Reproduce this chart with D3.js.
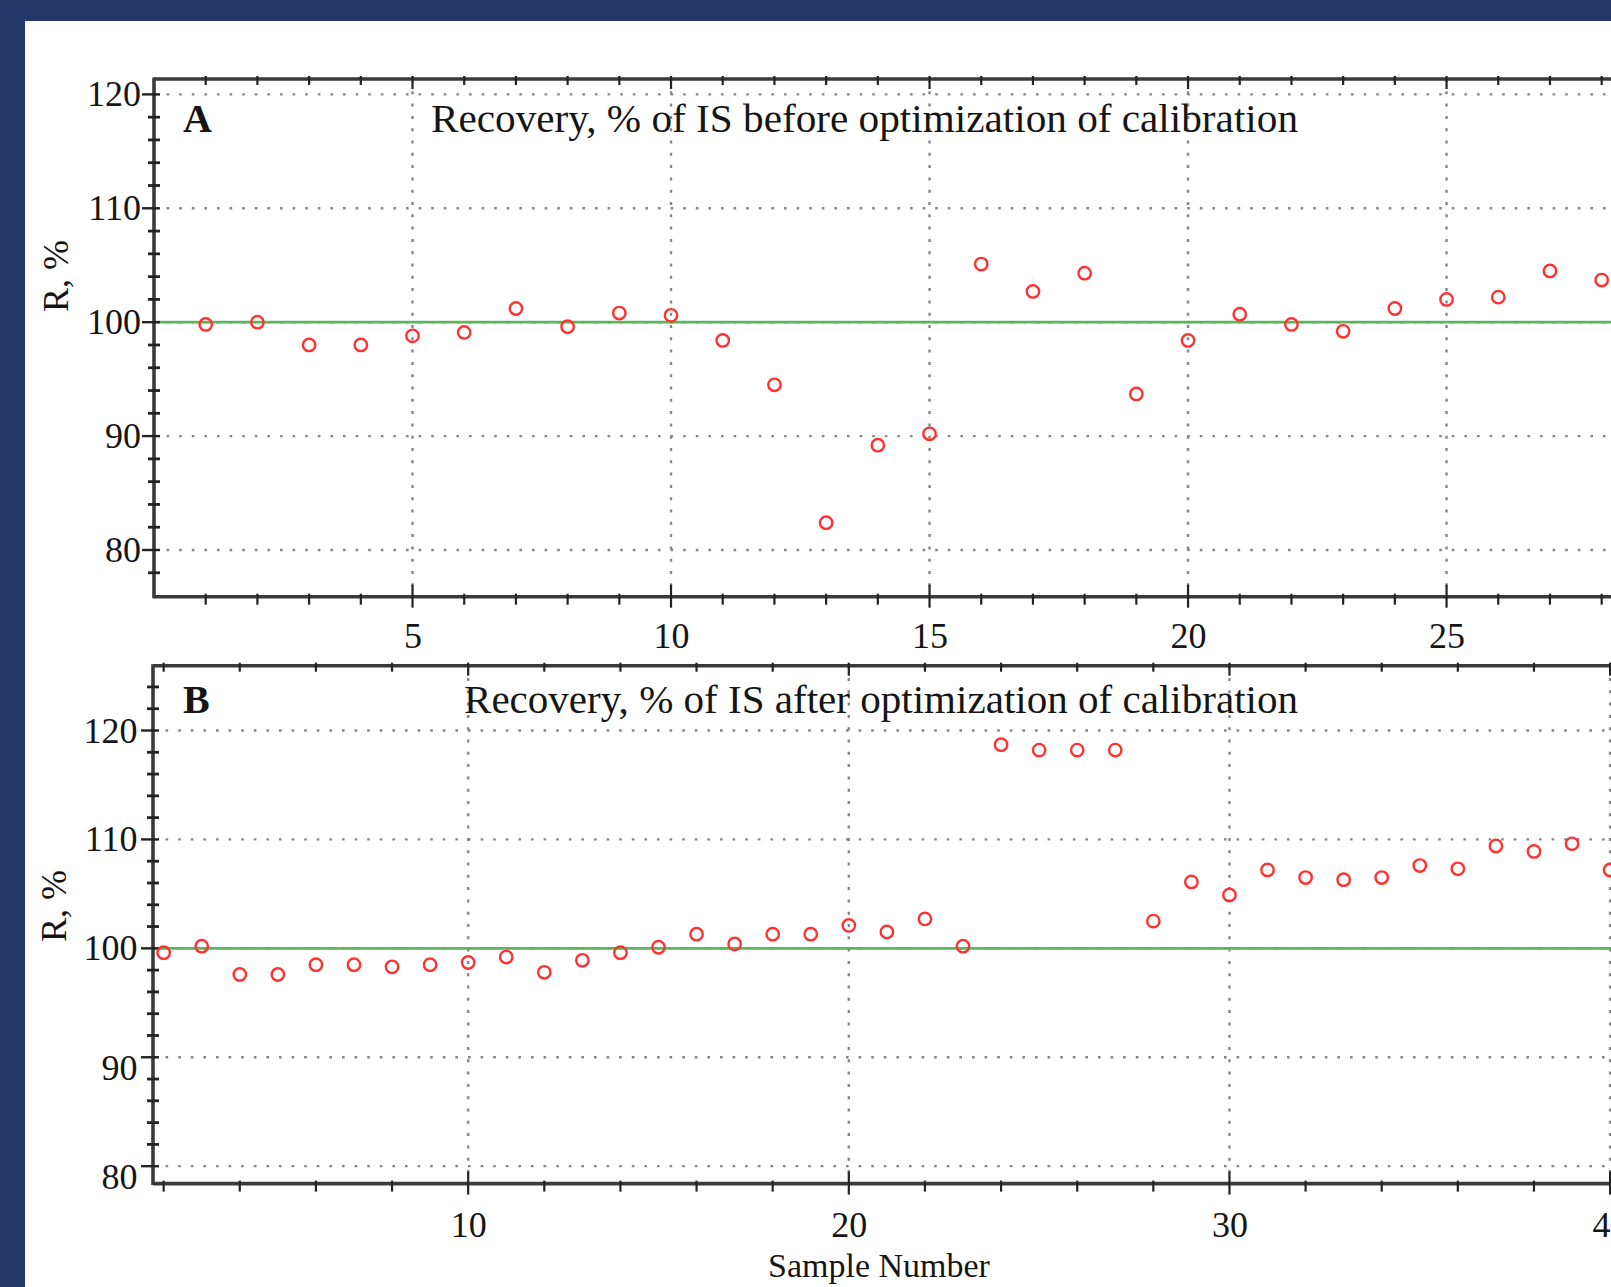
<!DOCTYPE html>
<html><head><meta charset="utf-8">
<script src="https://cdn.jsdelivr.net/npm/d3@7"></script>
<style>
html,body{margin:0;padding:0;background:#233669;overflow:hidden}
svg{display:block}
text{font-family:"Liberation Serif","Times New Roman",serif;fill:#151515}
</style></head><body>
<svg id="chart" width="1611" height="1287"></svg>
<script>
// ---- data ----
const samplesA = [1,2,3,4,5,6,7,8,9,10,11,12,13,14,15,16,17,18,19,20,21,22,23,24,25,26,27,28];
const recoveryA = [99.8,100.0,98.0,98.0,98.8,99.1,101.2,99.6,100.8,100.6,98.4,94.5,82.4,89.2,90.2,105.1,102.7,104.3,93.7,98.4,100.7,99.8,99.2,101.2,102.0,102.2,104.5,103.7];
const samplesB = [2,3,4,5,6,7,8,9,10,11,12,13,14,15,16,17,18,19,20,21,22,23,24,25,26,27,28,29,30,31,32,33,34,35,36,37,38,39,40];
const recoveryB = [99.6,100.2,97.6,97.6,98.5,98.5,98.3,98.5,98.7,99.2,97.8,98.9,99.6,100.1,101.3,100.4,101.3,101.3,102.1,101.5,102.7,100.2,118.7,118.2,118.2,118.2,102.5,106.1,104.9,107.2,106.5,106.3,106.5,107.6,107.3,109.4,108.9,109.6,107.2];
const xTicksA = [5,10,15,20,25];
const yTicksA = [80,90,100,110,120];
const xTicksB = [10,20,30,40];
const yTicksB = [80,90,100,110,120];
const titleA = "Recovery, % of IS before optimization of calibration";
const titleB = "Recovery, % of IS after optimization of calibration";
const referenceValue = 100;

const W = 1611, H = 1287;
const svg = d3.select("#chart");
svg.append("rect").attr("width", W).attr("height", H).attr("fill", "#233669");
svg.append("rect").attr("x", 25).attr("y", 21).attr("width", W - 25).attr("height", H - 21).attr("fill", "#ffffff");

const AX = "#3a3a3a", GRID = "#858585", RED = "#ff3030", GREEN = "#5cb45c";

function drawPanel(cfg) {
  const g = svg.append("g");
  const x = d3.scaleLinear().domain(cfg.xDomain).range(cfg.xRange);
  const y = d3.scaleLinear().domain(cfg.yDomain).range(cfg.yRange);
  const x0 = cfg.xRange[0], xR = W + 2;
  const yB = cfg.yRange[0], yT = cfg.yRange[1];

  // grid
  g.selectAll(".hg").data(cfg.yTicks).join("line")
    .attr("x1", x0).attr("x2", xR).attr("y1", d => y(d)).attr("y2", d => y(d))
    .attr("stroke", GRID).attr("stroke-width", 2.4).attr("stroke-dasharray", "2.6 10");
  g.selectAll(".vg").data(cfg.xTicks).join("line")
    .attr("x1", d => x(d)).attr("x2", d => x(d)).attr("y1", yT).attr("y2", yB)
    .attr("stroke", GRID).attr("stroke-width", 2.4).attr("stroke-dasharray", "3 9.3");

  // reference line
  g.append("line").attr("x1", x0).attr("x2", xR)
    .attr("y1", y(referenceValue)).attr("y2", y(referenceValue))
    .attr("stroke", GREEN).attr("stroke-width", 2.8);

  // frame
  g.append("line").attr("x1", x0).attr("x2", xR).attr("y1", yT).attr("y2", yT).attr("stroke", AX).attr("stroke-width", 3.6);
  g.append("line").attr("x1", x0).attr("x2", xR).attr("y1", yB).attr("y2", yB).attr("stroke", AX).attr("stroke-width", 3.6);
  g.append("line").attr("x1", x0).attr("x2", x0).attr("y1", yT - 1.5).attr("y2", yB + 1.5).attr("stroke", AX).attr("stroke-width", 3.6);

  // minor ticks
  const xm = d3.range(cfg.xMinor[0], cfg.xMinor[1] + 0.001, cfg.xMinor[2]).filter(v => x(v) > x0 + 2);
  const ym = d3.range(cfg.yMinor[0], cfg.yMinor[1] + 0.001, cfg.yMinor[2]).filter(v => y(v) < yB - 2 && y(v) > yT + 2);
  g.selectAll(".xmb").data(xm).join("line")
    .attr("x1", d => x(d)).attr("x2", d => x(d))
    .attr("y1", d => yB - (cfg.xTicks.includes(d) ? 12 : 3)).attr("y2", d => yB + (cfg.xTicks.includes(d) ? 11 : 8))
    .attr("stroke", "#222").attr("stroke-width", 2.2);
  g.selectAll(".xmt").data(xm).join("line")
    .attr("x1", d => x(d)).attr("x2", d => x(d))
    .attr("y1", yT - 3).attr("y2", d => yT + (cfg.xTicks.includes(d) ? 10 : 6))
    .attr("stroke", "#222").attr("stroke-width", 2.2);
  g.selectAll(".ym").data(ym).join("line")
    .attr("x1", d => x0 - (cfg.yTicks.includes(d) ? 12 : 6)).attr("x2", x0 + 6)
    .attr("y1", d => y(d)).attr("y2", d => y(d))
    .attr("stroke", "#222").attr("stroke-width", d => cfg.yTicks.includes(d) ? 2.4 : 2.8);

  // axes labels via d3 axes
  const ax = g.append("g").attr("transform", `translate(0,${yB})`)
    .call(d3.axisBottom(x).tickValues(cfg.xTicks).tickSize(0).tickPadding(cfg.xPad));
  const ay = g.append("g").attr("transform", `translate(${x0},0)`)
    .call(d3.axisLeft(y).tickValues(cfg.yTicks).tickSize(0).tickPadding(cfg.yPad));
  [ax, ay].forEach(a => {
    a.select(".domain").remove();
    a.selectAll("text").attr("font-family", '"Liberation Serif","Times New Roman",serif')
      .attr("font-size", 36).attr("fill", "#151515");
  });
  if (cfg.lowLabelShift) {
    ay.selectAll(".tick text").attr("dy", d => d < referenceValue ? "0.62em" : "0.32em");
  }

  // points
  g.selectAll(".pt").data(cfg.xs.map((s, i) => [s, cfg.ys[i]])).join("circle")
    .attr("cx", d => x(d[0])).attr("cy", d => y(d[1])).attr("r", 6.2)
    .attr("fill", "none").attr("stroke", RED).attr("stroke-width", 2.4);

  // panel letter and title
  g.append("text").attr("x", cfg.letterX).attr("y", cfg.titleY)
    .attr("font-size", 40).attr("font-weight", "bold").text(cfg.letter);
  g.append("text").attr("x", cfg.titleX).attr("y", cfg.titleY)
    .attr("font-size", 41).attr("textLength", cfg.titleLen).attr("lengthAdjust", "spacingAndGlyphs").text(cfg.title);

  // y label
  g.append("text").attr("transform", `translate(${cfg.yLabelX},${cfg.yLabelY}) rotate(-90)`)
    .attr("text-anchor", "middle").attr("font-size", 36).text("R, %");
}

drawPanel({
  xs: samplesA, ys: recoveryA,
  xDomain: [0, 28.2], xRange: [154, 1612],
  yDomain: [75.9, 121.35], yRange: [596.7, 79],
  xTicks: xTicksA, yTicks: yTicksA,
  xMinor: [1, 28, 1], yMinor: [76, 120, 2],
  xPad: 26, yPad: 13,
  letter: "A", letterX: 183, title: titleA, titleX: 431, titleY: 131.5, titleLen: 867,
  yLabelX: 68, yLabelY: 276
});

drawPanel({
  xs: samplesB, ys: recoveryB,
  xDomain: [1.72, 40.05], xRange: [153, 1612],
  yDomain: [78.4, 125.95], yRange: [1183.6, 665.7],
  xTicks: xTicksB, yTicks: yTicksB,
  xMinor: [2, 40, 2], yMinor: [80, 124, 2],
  xPad: 28, yPad: 15.5, lowLabelShift: true,
  letter: "B", letterX: 183, title: titleB, titleX: 464, titleY: 713, titleLen: 834,
  yLabelX: 66, yLabelY: 906
});

svg.append("text").attr("x", 879).attr("y", 1277).attr("text-anchor", "middle")
  .attr("font-size", 34).text("Sample Number");
</script>
</body></html>
